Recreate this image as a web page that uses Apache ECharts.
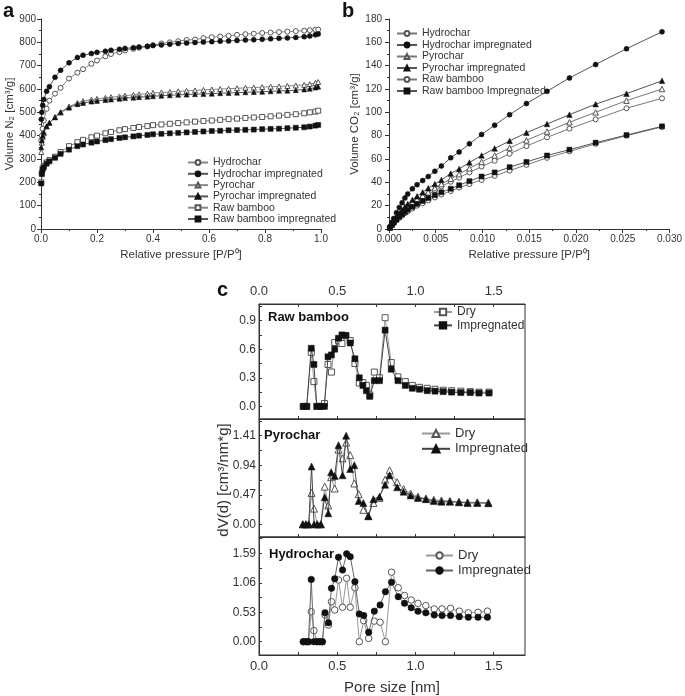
<!DOCTYPE html>
<html><head><meta charset="utf-8">
<script src="https://cdn.jsdelivr.net/npm/echarts@6/dist/echarts.min.js"></script>
<style>html,body{margin:0;padding:0;background:#fff}#c{width:685px;height:696px}</style>
</head><body><div id="c"></div>
<script>
// ---------- Panel a: N2 isotherms ----------
const A_X = [0.001,0.003,0.006,0.01,0.02,0.03,0.05,0.07,0.10,0.13,0.15,0.18,0.20,0.23,0.25,0.28,0.30,0.33,0.35,0.38,0.40,0.43,0.46,0.49,0.52,0.55,0.58,0.61,0.64,0.67,0.70,0.73,0.76,0.79,0.82,0.85,0.88,0.91,0.94,0.96,0.98,0.99];
const A_HYD = [380,400,430,465,515,550,580,605,645,670,685,708,722,740,750,758,765,772,777,782,788,795,800,805,810,812,818,822,825,828,832,835,837,840,842,844,846,848,850,852,854,855];
const A_HYD_IMP = [470,500,530,555,590,610,650,680,712,735,745,752,757,762,766,770,774,777,780,783,786,789,792,795,797,799,801,803,805,806,808,810,811,813,815,817,819,821,824,827,832,836];
const A_PYR = [330,370,395,410,440,455,480,500,525,540,548,555,558,562,565,568,572,575,577,580,583,585,587,590,592,594,596,598,600,601,603,605,606,608,610,611,613,615,618,621,626,630];
const A_PYR_IMP = [350,380,400,415,440,455,478,500,520,535,540,546,549,553,555,558,561,563,565,567,569,571,573,575,576,578,579,580,582,583,584,586,587,588,590,592,593,595,598,601,606,610];
const A_RAW = [200,240,260,270,285,295,310,330,355,372,382,393,400,410,416,423,428,433,437,441,445,448,451,454,457,460,463,465,468,471,473,476,478,480,483,486,489,492,496,500,503,507];
const A_RAW_IMP = [195,235,255,265,280,290,305,322,340,355,362,370,375,381,385,390,393,397,400,403,406,408,410,412,414,416,418,420,421,423,424,425,426,428,429,430,432,434,436,439,443,446];
const A_NAMES = ['Hydrochar','Hydrochar impregnated','Pyrochar','Pyrochar impregnated','Raw bamboo','Raw bamboo impregnated'];

// ---------- Panel b: CO2 isotherms ----------
const B_X = [0.0001,0.0003,0.0005,0.0008,0.0011,0.0014,0.0017,0.0020,0.0025,0.0030,0.0036,0.0042,0.0049,0.0056,0.0066,0.0075,0.0086,0.0099,0.0113,0.0129,0.0147,0.0169,0.0193,0.0221,0.0254,0.0292];
const B_HYD = [1.5,4,6,9,11.5,14,16.5,18.5,22,24.5,27,30,33,36.5,40.5,44,48.5,53.5,58.5,64.5,71,78.5,86,94,103.5,112];
const B_HYD_IMP = [2,5.5,9,14,18.5,22.5,26.5,30,34.5,38,41.5,45,49.5,54,61,66,73,81,89,98,107.5,118,129.5,141,154.5,169];
const B_PYR = [1.5,4,6.5,9.5,12,14.5,17,19.5,23,25.5,28.5,31.5,35,38.5,43,47,52,57.5,63,69.5,76,83.5,91.5,100,110,120];
const B_PYR_IMP = [1.5,4.5,7,10.5,13.5,16,19,21.5,25,28,31.5,35,38.5,42,47.5,51.5,57,63,69,75.5,82.5,90,98,107,116,127];
const B_RAW = [1,3,5,7.5,9.5,11.5,13.5,15,17.5,20,22,24.5,27,29.5,32.5,35.5,38.5,42,45.5,50,55,61,66.5,73,80,87.5];
const B_RAW_IMP = [1,3.5,5.5,8,10.5,12.5,14.5,16.5,19,21.5,24,26.5,29,31.5,34.5,37.5,41,45,48.5,53,57.5,63,68,74,80.5,88];
const B_NAMES = ['Hydrochar ','Hydrochar impregnated ','Pyrochar ','Pyrochar impregnated ','Raw bamboo ','Raw bamboo Impregnated'];

// ---------- Panel c: pore size distributions ----------
const RB_X = [0.283,0.305,0.334,0.351,0.370,0.393,0.418,0.441,0.463,0.484,0.508,0.530,0.555,0.583,0.613,0.641,0.664,0.686,0.708,0.737,0.770,0.806,0.845,0.888,0.935,0.980,1.026,1.075,1.125,1.177,1.231,1.290,1.350,1.406,1.470];
const RB_DRY = [0,0,0.565,0.26,0,0,0.03,0.44,0.36,0.67,0.69,0.66,0.74,0.69,0.45,0.245,0.25,0.22,0.12,0.36,0.30,0.93,0.46,0.31,0.26,0.22,0.20,0.19,0.18,0.17,0.165,0.16,0.155,0.15,0.15];
const RB_IMP = [0,0,0.61,0.44,0,0,0,0.52,0.54,0.60,0.715,0.75,0.745,0.665,0.50,0.30,0.22,0.165,0.105,0.27,0.27,0.80,0.39,0.27,0.22,0.19,0.18,0.165,0.16,0.155,0.15,0.145,0.145,0.14,0.14];
const PY_X = [0.280,0.300,0.318,0.336,0.352,0.372,0.395,0.420,0.443,0.461,0.484,0.508,0.534,0.557,0.583,0.609,0.637,0.667,0.699,0.731,0.770,0.806,0.835,0.883,0.924,0.969,1.016,1.067,1.117,1.166,1.220,1.278,1.333,1.395,1.466];
const PY_DRY = [0,0,0,0.50,0.25,0,0,0.60,0.30,0.75,0.57,1.19,1.05,1.30,1.10,0.65,0.48,0.23,0.13,0.34,0.42,0.71,0.86,0.67,0.56,0.49,0.44,0.41,0.39,0.38,0.37,0.36,0.35,0.35,0.345];
const PY_IMP = [0,0,0,0.92,0,0,0,0.43,0.175,0.83,0.77,1.26,0.78,1.41,0.88,0.94,0.37,0.34,0.13,0.40,0.44,0.63,0.78,0.59,0.52,0.46,0.42,0.40,0.37,0.36,0.36,0.35,0.34,0.34,0.335];
const HY_X = [0.283,0.300,0.316,0.334,0.351,0.370,0.389,0.405,0.422,0.444,0.463,0.484,0.508,0.534,0.560,0.583,0.613,0.641,0.669,0.701,0.737,0.774,0.808,0.847,0.890,0.930,0.973,1.016,1.066,1.120,1.170,1.224,1.280,1.338,1.400,1.460];
const HY_DRY = [0,0,0,0.54,0.20,0,0,0,0.48,0.30,0.72,0.57,1.11,0.62,1.14,0.62,0.97,0,0.38,0.06,0.37,0.35,0,1.25,0.97,0.83,0.75,0.69,0.65,0.59,0.59,0.60,0.55,0.52,0.53,0.55];
const HY_IMP = [0,0,0,1.12,0,0,0,0,0.52,0.34,0.96,1.13,1.52,1.29,1.58,1.53,1.08,0.50,0.47,0.17,0.55,0.66,0.90,1.07,0.81,0.69,0.61,0.55,0.52,0.48,0.47,0.47,0.45,0.44,0.44,0.44];

const C_XTICKS = [0, 0.5, 1.0, 1.5];
const C1_YTICKS = [0, 0.3, 0.6, 0.9];
const C2_YTICKS = [0, 0.47, 0.94, 1.41];
const C3_YTICKS = [0, 0.53, 1.06, 1.59];
const C_TITLES = ['Raw bamboo', 'Pyrochar', 'Hydrochar'];

// ---------- build ----------
const FONT = '"Liberation Sans", Arial, Helvetica, sans-serif';
const AX = '#333';
function pairs(xs, ys) { return xs.map((x, i) => [x, ys[i]]); }
function ser(name, xi, yi, xs, ys, sym, filled, size, lc) {
  return {
    type: 'line', name, xAxisIndex: xi, yAxisIndex: yi, data: pairs(xs, ys),
    symbol: sym, symbolSize: size, showSymbol: true, showAllSymbol: true,
    lineStyle: { color: lc, width: 1 },
    itemStyle: filled ? { color: '#111', borderColor: '#111', borderWidth: 0.5 }
                      : { color: '#fff', borderColor: '#555', borderWidth: 1 },
    emphasis: { disabled: true }, z: filled ? 3 : 2, animation: false
  };
}
function halves(arr, lo, hi) {
  const s = arr[1] - arr[0]; const out = [];
  for (let i = -1; i < arr.length + 1; i++) {
    const v = arr[0] + i * s; const h = v + s / 2;
    [v, h].forEach(t => { if (t >= lo - 1e-9 && t <= hi + 1e-9) out.push(+t.toFixed(4)); });
  }
  return out;
}
const tickLine = { lineStyle: { color: AX, width: 1 } };
const axisLine = { show: true, onZero: false, lineStyle: { color: AX, width: 1 } };
const lab = (fs, m, f) => ({ fontSize: fs, color: '#333', fontFamily: FONT, margin: m, formatter: f });

const C_XMAX = 1.7;
const cRanges = [[-0.132, 1.074], [-0.202, 1.676], [-0.239, 1.883]];
const cTicks = [C1_YTICKS, C2_YTICKS, C3_YTICKS];
const cDec = [1, 2, 2];

const xAxis = [
  { type: 'value', gridIndex: 0, min: 0, max: 1, interval: 0.2, axisLine,
    axisTick: { show: true, length: 4, ...tickLine }, minorTick: { show: true, splitNumber: 2, length: 2, ...tickLine },
    splitLine: { show: false }, axisLabel: lab(10, 5, v => v.toFixed(1)),
    name: 'Relative pressure [P/P\u2070]', nameLocation: 'middle', nameGap: 20,
    nameTextStyle: { fontSize: 11.5, color: '#333', fontFamily: FONT } },
  { type: 'value', gridIndex: 1, min: 0, max: 0.03, interval: 0.005, axisLine,
    axisTick: { show: true, length: 4, ...tickLine }, minorTick: { show: true, splitNumber: 2, length: 2, ...tickLine },
    splitLine: { show: false }, axisLabel: lab(10, 5, v => v.toFixed(3)),
    name: 'Relative pressure [P/P\u2070]', nameLocation: 'middle', nameGap: 20,
    nameTextStyle: { fontSize: 11.5, color: '#333', fontFamily: FONT } },
  { type: 'value', gridIndex: 2, position: 'top', min: 0, max: C_XMAX, axisLine,
    axisTick: { show: true, inside: true, length: 3, customValues: halves(C_XTICKS, 0, C_XMAX), ...tickLine },
    splitLine: { show: false }, axisLabel: { ...lab(13, 6, v => v.toFixed(1)), customValues: C_XTICKS } },
  { type: 'value', gridIndex: 2, position: 'bottom', min: 0, max: C_XMAX, axisLine,
    axisTick: { show: true, inside: true, length: 3, customValues: halves(C_XTICKS, 0, C_XMAX), ...tickLine },
    splitLine: { show: false }, axisLabel: { show: false } },
  { type: 'value', gridIndex: 3, position: 'bottom', min: 0, max: C_XMAX, axisLine,
    axisTick: { show: true, inside: true, length: 3, customValues: halves(C_XTICKS, 0, C_XMAX), ...tickLine },
    splitLine: { show: false }, axisLabel: { show: false } },
  { type: 'value', gridIndex: 4, position: 'bottom', min: 0, max: C_XMAX, axisLine,
    axisTick: { show: true, inside: true, length: 3, customValues: halves(C_XTICKS, 0, C_XMAX), ...tickLine },
    splitLine: { show: false }, axisLabel: { ...lab(13, 5, v => v.toFixed(1)), customValues: C_XTICKS },
    name: 'Pore size [nm]', nameLocation: 'middle', nameGap: 25,
    nameTextStyle: { fontSize: 15, color: '#333', fontFamily: FONT } }
];
const yAxis = [
  { type: 'value', gridIndex: 0, min: 0, max: 900, interval: 100, axisLine,
    axisTick: { show: true, length: 4, ...tickLine }, minorTick: { show: true, splitNumber: 2, length: 2, ...tickLine },
    splitLine: { show: false }, axisLabel: lab(10, 5),
    name: 'Volume N\u2082 [cm\u00b3/g]', nameLocation: 'middle', nameGap: 23,
    nameTextStyle: { fontSize: 11.5, color: '#333', fontFamily: FONT } },
  { type: 'value', gridIndex: 1, min: 0, max: 180, interval: 20, axisLine,
    axisTick: { show: true, length: 4, ...tickLine }, minorTick: { show: true, splitNumber: 2, length: 2, ...tickLine },
    splitLine: { show: false }, axisLabel: lab(10, 7),
    name: 'Volume CO\u2082 [cm\u00b3/g]', nameLocation: 'middle', nameGap: 28,
    nameTextStyle: { fontSize: 11.5, color: '#333', fontFamily: FONT } }
];
for (let k = 0; k < 3; k++) {
  const [lo, hi] = cRanges[k];
  yAxis.push({ type: 'value', gridIndex: 2 + k, min: lo, max: hi, axisLine,
    axisTick: { show: true, inside: true, length: 3, customValues: halves(cTicks[k], lo, hi), ...tickLine },
    splitLine: { show: false },
    axisLabel: { ...lab(12, 3, v => v.toFixed(cDec[k])), customValues: cTicks[k] } });
}

const series = [
  ser(A_NAMES[0], 0, 0, A_X, A_HYD, 'circle', false, 5, '#888'),
  ser(A_NAMES[1], 0, 0, A_X, A_HYD_IMP, 'circle', true, 5, '#555'),
  ser(A_NAMES[2], 0, 0, A_X, A_PYR, 'triangle', false, 5, '#888'),
  ser(A_NAMES[3], 0, 0, A_X, A_PYR_IMP, 'triangle', true, 5, '#555'),
  ser(A_NAMES[4], 0, 0, A_X, A_RAW, 'rect', false, 5, '#888'),
  ser(A_NAMES[5], 0, 0, A_X, A_RAW_IMP, 'rect', true, 5, '#555'),
  ser(B_NAMES[0], 1, 1, B_X, B_HYD, 'circle', false, 5, '#777'),
  ser(B_NAMES[1], 1, 1, B_X, B_HYD_IMP, 'circle', true, 5, '#555'),
  ser(B_NAMES[2], 1, 1, B_X, B_PYR, 'triangle', false, 5.5, '#777'),
  ser(B_NAMES[3], 1, 1, B_X, B_PYR_IMP, 'triangle', true, 5.5, '#555'),
  ser(B_NAMES[4], 1, 1, B_X, B_RAW, 'circle', false, 5, '#777'),
  ser(B_NAMES[5], 1, 1, B_X, B_RAW_IMP, 'rect', true, 5, '#555'),
  ser('Dry', 2, 2, RB_X, RB_DRY, 'rect', false, 6, '#999'),
  ser('Impregnated', 2, 2, RB_X, RB_IMP, 'rect', true, 6, '#444'),
  ser('Dry ', 4, 3, PY_X, PY_DRY, 'triangle', false, 7, '#999'),
  ser('Impregnated ', 4, 3, PY_X, PY_IMP, 'triangle', true, 7, '#444'),
  ser('Dry  ', 5, 4, HY_X, HY_DRY, 'circle', false, 6.5, '#999'),
  ser('Impregnated  ', 5, 4, HY_X, HY_IMP, 'circle', true, 6.5, '#666')
];

const trim = n => n.trim();
const legendBase = (o) => Object.assign({ orient: 'vertical', padding: 0, selectedMode: false, formatter: trim,
  textStyle: { color: '#333', fontFamily: FONT } }, o);
const legend = [
  legendBase({ left: 187, top: 157, itemWidth: 20, itemHeight: 6, itemGap: 0.3, data: A_NAMES,
    textStyle: { color: '#333', fontFamily: FONT, fontSize: 10.5, lineHeight: 11 } }),
  legendBase({ left: 396, top: 28, itemWidth: 20, itemHeight: 6, itemGap: 0.5, data: B_NAMES,
    textStyle: { color: '#333', fontFamily: FONT, fontSize: 10.5, lineHeight: 11 } }),
  legendBase({ left: 433, top: 306, itemWidth: 18, itemHeight: 8, itemGap: 1.4, data: ['Dry', 'Impregnated'],
    textStyle: { color: '#333', fontFamily: FONT, fontSize: 12, lineHeight: 12 } }),
  legendBase({ left: 421, top: 427, itemWidth: 28, itemHeight: 9, itemGap: 2.3, data: ['Dry ', 'Impregnated '],
    textStyle: { color: '#333', fontFamily: FONT, fontSize: 13, lineHeight: 13 } }),
  legendBase({ left: 425, top: 549, itemWidth: 27, itemHeight: 8, itemGap: 2, data: ['Dry  ', 'Impregnated  '],
    textStyle: { color: '#333', fontFamily: FONT, fontSize: 13, lineHeight: 13 } })
];

const grid = [
  { left: 41, top: 19, width: 280, height: 210 },
  { left: 389, top: 19, width: 284, height: 210 },
  { left: 259, top: 304, width: 266, height: 115, show: true, borderColor: AX, borderWidth: 1, backgroundColor: 'transparent' },
  { left: 259, top: 419, width: 266, height: 118, show: true, borderColor: AX, borderWidth: 1, backgroundColor: 'transparent' },
  { left: 259, top: 537, width: 266, height: 118, show: true, borderColor: AX, borderWidth: 1, backgroundColor: 'transparent' }
];

const txt = (x, y, text, font, extra) => Object.assign({ type: 'text', x, y, silent: true,
  style: { text, font, fill: '#111', align: 'left', verticalAlign: 'middle', textAlign: 'left', textVerticalAlign: 'middle' } }, extra || {});
const graphic = [
  txt(3, 11, 'a', 'bold 20px ' + FONT),
  txt(342, 11, 'b', 'bold 20px ' + FONT),
  txt(217, 290, 'c', 'bold 20px ' + FONT),
  txt(268, 317, C_TITLES[0], 'bold 13px ' + FONT),
  txt(264, 435, C_TITLES[1], 'bold 13px ' + FONT),
  txt(269, 554, C_TITLES[2], 'bold 13px ' + FONT),
  { type: 'text', x: 224, y: 480, rotation: Math.PI / 2, silent: true,
    style: { text: 'dV(d) [cm\u00b3/nm*g]', font: '15px ' + FONT, fill: '#333', align: 'center', verticalAlign: 'middle', textAlign: 'center', textVerticalAlign: 'middle' } }
];

const chart = echarts.init(document.getElementById('c'), null, { renderer: 'canvas' });
chart.setOption({ animation: false, backgroundColor: '#fff', textStyle: { fontFamily: FONT },
  grid, xAxis, yAxis, series, legend, graphic, tooltip: { show: false } });
</script></body></html>
